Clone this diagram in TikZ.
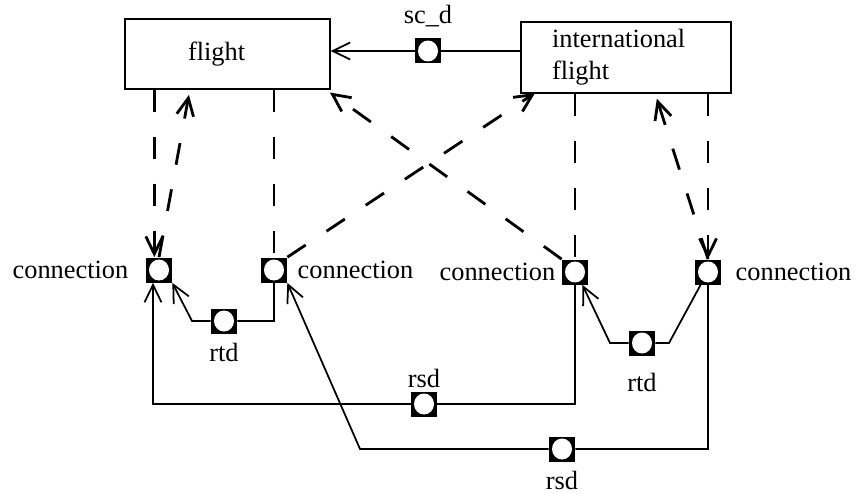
\documentclass[tikz,border=0pt]{standalone}
\usepackage{fontspec}
\setmainfont{Liberation Serif}
\usetikzlibrary{positioning, arrows.meta}

\begin{document}
\begin{tikzpicture}[x=0.02cm, y=-0.02cm,
  font=\fontsize{15pt}{18pt}\selectfont,
  cls/.style={draw, line width=0.8pt, minimum height=1.4cm, inner sep=0, align=left},
  port/.style={rectangle, fill=black, inner sep=0, minimum width=0.52cm, minimum height=0.5cm,
    path picture={\fill[white] (path picture bounding box.center) ellipse (0.2cm and 0.21cm);}},
  lbl/.style={inner sep=0},
  rel/.style={line width=1pt},
  spec/.style={line width=1.6pt, dash pattern=on 0.44cm off 0.5cm},
  arr/.style={-{Straight Barb[length=3.5mm,width=3.4mm]}}]
  \useasboundingbox (0,0) rectangle (857,493);

  % Classes
  \node[cls, minimum width=4.1cm, text width=1.58cm, inner xsep=1.26cm] (flight) at (227.5,54) {flight};
  \node[cls, minimum width=4.2cm, minimum height=1.42cm, text width=2.96cm,
        inner xsep=0.62cm] (intl) at (626,57.5) {international\\flight};

  % Ports
  \node[port] (scd) at (428,51) {};
  \node[port] (c1) at (159,270) {};
  \node[port] (c2) at (274,270) {};
  \node[port] (c3) at (575,272) {};
  \node[port] (c4) at (708,272) {};
  \node[port] (rtd1) at (224,321) {};
  \node[port] (rtd2) at (642,343) {};
  \node[port] (rsd1) at (424,404) {};
  \node[port] (rsd2) at (562,449) {};

  % Port labels
  \node[lbl, above=0.22cm of scd] (scdl) {sc\_d};
  \node[lbl, left=0.34cm of c1] (c1l) {connection};
  \node[lbl, right=0.2cm of c2] (c2l) {connection};
  \node[lbl, left=0.12cm of c3] (c3l) {connection};
  \node[lbl, right=0.28cm of c4] (c4l) {connection};
  \node[lbl, below=0.18cm of rtd1] (rtd1l) {rtd};
  \node[lbl, below=0.34cm of rtd2] (rtd2l) {rtd};
  \node[lbl, above=0.06cm of rsd1] (rsd1l) {rsd};
  \node[lbl, below=0.18cm of rsd2] (rsd2l) {rsd};

  % Bend points
  \coordinate (fla) at (190,89);
  \coordinate (flb) at (325,89);
  \coordinate (ila) at (535,93);
  \coordinate (ilb) at (655,93);
  \coordinate (rtd1a) at (192,321);
  \coordinate (rtd2a) at (610,343);
  \coordinate (rtd2b) at (669,343);
  \coordinate (rsd1a) at (153,404);
  \coordinate (rsd2a) at (360,449);

  % sc_d
  \draw[rel, arr] (intl.west |- scd) -- (scd) -- (flight.east |- scd);

  % rtd
  \draw[rel, arr] (c2.south) -- (c2.south |- rtd1) -- (rtd1) -- (rtd1a) -- (c1.south east);
  \draw[rel, arr] (c4.-120) -- (rtd2b) -- (rtd2) -- (rtd2a) -- (c3.-60);

  % rsd
  \draw[rel, arr] (c3.south) -- (c3.south |- rsd1) -- (rsd1) -- (rsd1a) -- (rsd1a |- c1.south);
  \draw[rel, arr] (c4.south) -- (c4.south |- rsd2) -- (rsd2) -- (rsd2a) -- (c2.south east);

  % Dashed links to the classes
  \draw[spec, arr] (flight.south -| c1.110) -- (c1.110);
  \draw[spec, arr, shorten >=0.12cm] (c1.north) -- (fla);
  \draw[spec] (flight.south -| c2) -- (c2.north);
  \draw[spec, arr] (c2.north east) -- (ila);
  \draw[spec, arr, shorten >=0.12cm] (c3.north west) -- (flb);
  \draw[spec] (intl.south -| c3) -- (c3.north);
  \draw[spec, arr] (intl.south -| c4) -- (c4.north);
  \draw[spec, arr, shorten >=0.12cm] (c4.north) -- (ilb);
\end{tikzpicture}
\end{document}
